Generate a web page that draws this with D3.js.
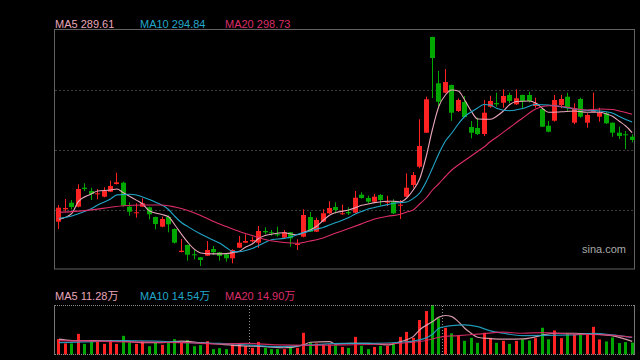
<!DOCTYPE html>
<html><head><meta charset="utf-8">
<script src="https://cdn.jsdelivr.net/npm/d3@7/dist/d3.min.js"></script>
<style>html,body{margin:0;padding:0;background:#000;}svg{display:block;}</style>
</head><body>
<svg id="chart" width="640" height="360"></svg>
<script>
// ---- data ----
const openP = [245.05,251.25,254.55,252.55,262.05,260.4,258.75,257.55,260.05,263.9,
264.55,252.55,249.25,252.55,252.25,247.4,242.55,247.4,241.4,229.9,
233.4,228.75,227.25,228.05,231.4,229.75,228.75,226.75,232.05,234.55,
235.25,234.55,240.4,239.75,238.75,237.05,239.75,233.4,237.55,247.4,
240.05,245.05,249.25,252.4,248.75,249.9,249.55,258.55,256.9,255.05,
258.4,254.55,255.05,253.05,257.55,263.4,272.55,289.55,337.4,314.25,
309.55,313.4,300.4,304.9,292.4,291.9,288.9,302.55,304.4,304.55,
308.4,303.75,308.4,308.4,302.9,301.4,293.05,295.55,303.4,307.55,
294.55,306.4,294.55,299.9,297.55,299.25,294.55,289.55,288.75,287.55];
const closeP = [252.05,251.9,252.4,261.4,261.4,258.9,259.25,260.4,262.9,264.75,
253.05,250.05,249.75,254.25,248.75,243.9,246.4,243.75,234.55,230.55,
228.55,228.4,225.9,230.9,229.75,227.9,226.75,230.9,234.55,235.4,
235.9,240.4,239.75,239.25,238.25,239.75,236.75,233.9,248.4,240.05,
245.9,249.25,251.9,250.9,249.25,249.25,257.05,256.9,255.05,257.55,
255.9,255.05,249.25,253.55,262.05,268.4,282.9,306.25,326.9,305.05,
314.9,299.55,305.9,297.4,289.55,288.9,299.55,305.4,303.75,307.9,
305.4,306.75,305.4,305.4,304.25,292.55,290.05,305.9,306.4,301.75,
301.75,297.55,298.4,300.4,299.55,294.25,289.55,287.9,288.25,285.9];
const highP = [253.4,256.4,255.9,263.75,264.25,262.05,261.4,262.25,265.55,269.55,
265.05,254.75,254.25,256.75,252.55,247.55,247.55,248.25,241.65,236.4,
233.65,230.9,227.4,235.4,232.9,229.9,229.4,231.25,237.9,238.75,
237.55,242.9,242.25,240.9,242.55,240.9,239.9,236.25,251.25,249.9,
247.05,251.25,255.25,254.75,253.55,252.25,260.4,259.75,258.05,258.9,
258.9,258.05,256.25,255.9,269.25,269.9,296.25,307.55,337.55,320.4,
321.4,313.55,306.65,307.9,295.4,297.05,305.9,308.05,309.55,311.25,
309.55,311.25,308.55,310.05,307.05,301.55,295.4,308.4,308.4,309.55,
304.25,307.05,299.25,309.55,302.05,299.9,294.65,292.55,290.4,288.75];
const lowP = [241.4,250.05,251.25,252.25,260.4,255.9,256.25,257.25,259.9,263.65,
252.55,248.05,247.05,252.4,246.25,241.25,242.25,239.75,234.15,229.75,
225.55,226.25,222.9,227.9,228.4,225.55,225.05,224.25,231.9,234.4,
234.75,232.05,238.75,238.05,237.55,236.9,232.55,230.9,237.25,239.9,
239.9,244.75,249.05,249.25,248.55,248.4,249.4,256.55,254.25,254.55,
253.05,252.9,248.9,246.4,257.4,262.05,271.75,289.4,306.9,302.9,
309.25,295.55,299.9,297.25,286.75,288.4,287.9,302.05,302.55,302.05,
304.25,303.4,301.4,304.75,302.05,292.4,289.75,295.05,301.75,300.05,
293.75,297.05,292.05,299.75,295.05,293.9,287.55,286.4,281.4,284.75];
// volume in 万 (10k shares)
const volume = [13.2,9.5,9.5,17.7,9.1,10.8,10.8,9.1,12.3,9.1,
16.0,10.3,9.1,11.2,7.1,10.0,8.3,10.3,13.2,10.0,
12.3,7.1,8.0,11.4,4.6,5.4,4.6,8.6,9.5,7.1,
5.7,10.8,5.7,4.6,4.6,4.6,6.3,5.7,18.6,10.3,
9.5,8.6,8.6,7.7,6.5,5.7,15.1,7.4,4.6,6.5,
7.4,7.4,10.0,15.1,19.4,14.3,29.5,37.2,42.4,31.0,
22.9,18.1,16.3,11.7,14.3,10.0,18.6,14.3,10.0,11.7,
9.1,11.7,13.0,12.0,14.0,22.9,13.0,20.6,14.0,18.1,
17.0,18.0,17.4,23.7,12.9,11.2,14.6,9.8,10.6,10.2];
// moving averages: [candle index, value]
const ma5 = [[0,246.25],[2,249.25],[3,255.05],[5,258.9],[6,260.4],[8,260.9],[9,261.4],[10,259.55],[12,255.85],[13,253.9],[14,250.5],[16,248.6],[17,247.5],[18,243.4],[19,238.9],[20,234.75],[21,231.3],[22,229.4],[24,228.95],[26,229.1],[27,229.6],[28,230.3],[29,232.4],[30,233.9],[31,236.65],[32,238.15],[33,238.8],[35,239.5],[36,238.9],[37,238.5],[38,239.65],[39,240.9],[40,242.75],[41,245.65],[42,248.3],[43,249.65],[45,250.9],[46,252],[47,253.25],[48,253.9],[49,254.6],[50,255.05],[51,255.25],[52,255.3],[53,254.9],[54,256.9],[55,260.9],[56,266.4],[57,277.4],[58,291.4],[59,302.9],[60,308.4],[61,310.9],[62,310.4],[63,305.9],[64,300.4],[65,296.4],[67,296.25],[68,297.9],[69,300.4],[70,303.65],[71,305.15],[73,305.4],[74,304.4],[75,301.9],[76,299.75],[78,300],[80,300.4],[82,299.75],[84,299.75],[85,298.9],[86,297.65],[87,295.3],[88,292.9],[89,289.61]];
const ma10 = [[0,246.8],[2,247.9],[3,249],[5,251.5],[6,253.4],[8,256.4],[9,258.45],[11,258.75],[12,258.4],[14,256.15],[15,254.8],[17,251.15],[18,247.65],[19,244.65],[20,242.6],[22,238.9],[24,235.8],[25,234.25],[26,232.05],[27,230.1],[28,230.05],[29,230.65],[30,231.65],[31,233.15],[32,234.65],[33,236],[35,236.7],[36,237.4],[37,238.65],[38,239.6],[39,240.4],[40,241.4],[41,242.15],[42,243.4],[43,244.65],[45,247.1],[46,248.9],[47,250.15],[48,251.4],[49,252.15],[50,252.9],[51,253.6],[52,254.25],[53,254.6],[54,254.9],[55,256.65],[56,259.4],[57,264.9],[58,271.9],[59,279.15],[60,285.4],[61,289.4],[62,293.9],[63,297.65],[64,299.9],[65,301.9],[66,303.65],[67,303.4],[68,301.65],[70,300.55],[72,301.65],[74,303.65],[76,303.4],[78,302.5],[80,301.4],[82,300.7],[84,300.4],[86,299.25],[87,297.65],[88,296.15],[89,294.84]];
const ma20 = [[0,249.75],[2,250.1],[5,250.95],[8,252.25],[10,253.05],[13,253.4],[16,253.4],[18,252.4],[20,250.65],[22,248.15],[24,245.15],[26,242.6],[28,240.15],[30,238.15],[32,236.15],[34,235],[36,234.4],[37,234.25],[39,235.4],[41,236.9],[43,239.4],[45,241.65],[47,244],[49,246.4],[51,247.75],[53,248.75],[54,249.9],[55,250.9],[56,253.9],[57,256.9],[58,260.9],[59,264.15],[60,267.65],[61,270.9],[62,273.4],[63,275.65],[64,277.9],[65,280.15],[66,282.4],[67,285.15],[68,287.4],[70,292.15],[72,296.9],[74,301.4],[76,303.05],[78,302.75],[80,301.65],[82,300.9],[84,301.4],[86,301.15],[87,300.4],[88,299.65],[89,298.73]];
const vma5 = [[0,13.1],[2,11.9],[5,11.9],[10,11.4],[13,10.1],[16,10.1],[19,11.4],[22,10.1],[25,8.8],[28,7.6],[32,6.7],[35,5.8],[38,8.2],[39,10.5],[42,11.0],[43,8.8],[45,9.6],[48,9.6],[51,8.2],[53,11.0],[55,15.3],[56,21.1],[58,28.2],[59,32.0],[60,33.4],[61,32.5],[62,28.2],[63,22.5],[64,18.2],[65,14.8],[67,13.6],[69,13.1],[72,13.3],[77,18.2],[80,18.2],[83,17.4],[86,15.9],[89,11.28]];
const vma10 = [[0,10.1],[4,10.8],[10,11.9],[15,11.4],[20,10.1],[25,9.6],[28,8.8],[34,6.7],[39,8.2],[44,9.6],[49,9.6],[53,10.5],[56,12.5],[58,17.4],[59,22.5],[61,24.8],[63,25.4],[65,23.9],[67,20.2],[69,18.2],[72,16.2],[80,16.8],[83,18.2],[86,16.8],[89,14.54]];
const vma20 = [[0,11.8],[4,11.6],[10,10.8],[15,10.5],[20,10.1],[25,9.0],[29,9.6],[34,8.2],[39,7.9],[44,8.2],[49,8.8],[55,10.5],[58,13.3],[59,14.8],[62,16.2],[65,17.4],[69,19.1],[72,18.2],[75,18.7],[80,17.4],[85,16.8],[89,14.90]];
const priceGrid = [250.9, 280.9, 310.9];
const sessionBreaks = [30, 60];
const maNames = ["MA5", "MA10", "MA20"];
const sourceLabel = "sina.com";

// ---- drawing ----
const svg = d3.select("#chart");
const UP = "#ff2222", DOWN = "#00a800";
const maColors = ["#e9a6b9", "#22a7c9", "#dc2d68"];
const n = closeP.length;
const x = d3.scaleBand().domain(d3.range(n)).range([55.78, 635.38]).paddingInner(0.22).paddingOuter(0.11);
const cx = i => x(i) + x.bandwidth() / 2;
const y = d3.scaleLinear().domain([221.4, 341.4]).range([269, 29]);
const yv = d3.scaleLinear().domain([0, d3.max(volume)]).range([354.5, 305]);
const font = "'Liberation Sans', Arial, 'Noto Sans CJK SC', sans-serif";

// main frame + grid
const main = svg.append("g");
main.selectAll("line.grid").data(priceGrid).join("line")
  .attr("x1", 55).attr("x2", 634).attr("y1", d => Math.round(y(d)) + 0.5).attr("y2", d => Math.round(y(d)) + 0.5)
  .attr("stroke", "#3d3d3d").attr("stroke-dasharray", "2,2");
main.append("rect").attr("x", 54.5).attr("y", 29.5).attr("width", 580).attr("height", 239.5)
  .attr("fill", "none").attr("stroke", "#626262");

// candles
const data = d3.range(n).map(i => ({i, o: openP[i], c: closeP[i], h: highP[i], l: lowP[i], v: volume[i]}));
const col = d => d.c >= d.o ? UP : DOWN;
const cg = main.append("g");
cg.selectAll("line").data(data).join("line")
  .attr("x1", d => Math.round(cx(d.i) - 2.5) + 2.5).attr("x2", d => Math.round(cx(d.i) - 2.5) + 2.5)
  .attr("y1", d => y(d.h)).attr("y2", d => y(d.l)).attr("stroke", col).attr("stroke-width", 1);
cg.selectAll("rect").data(data).join("rect")
  .attr("x", d => Math.round(cx(d.i) - 2.5)).attr("width", 5)
  .attr("y", d => y(Math.max(d.o, d.c)))
  .attr("height", d => Math.max(1, Math.abs(y(d.o) - y(d.c))))
  .attr("fill", col);

// MA lines (price)
const lineP = d3.line().x(d => cx(d[0])).y(d => y(d[1])).curve(d3.curveMonotoneX);
[ma5, ma10, ma20].forEach((s, k) => {
  main.append("path").datum(s).attr("d", lineP).attr("fill", "none")
    .attr("stroke", maColors[k]).attr("stroke-width", 1.1);
});

// legend main
const legX = [55, 140, 225];
[ma5, ma10, ma20].forEach((s, k) => {
  svg.append("text").attr("x", legX[k]).attr("y", 28).attr("fill", maColors[k])
    .attr("font-family", font).attr("font-size", 11)
    .text(maNames[k] + " " + s[s.length - 1][1].toFixed(2));
});
svg.append("text").attr("x", 582).attr("y", 253).attr("fill", "#a8a8a8")
  .attr("font-family", font).attr("font-size", 11).text(sourceLabel);

// volume panel
const vol = svg.append("g");
vol.selectAll("line.sep").data(sessionBreaks).join("line")
  .attr("x1", d => Math.round(cx(d) - x.step() / 2) + 0.5).attr("x2", d => Math.round(cx(d) - x.step() / 2) + 0.5)
  .attr("y1", 306).attr("y2", 355).attr("stroke", "#8a8a8a").attr("stroke-dasharray", "1,2");
vol.selectAll("rect").data(data).join("rect")
  .attr("x", d => Math.round(cx(d.i) - 1.5)).attr("width", 3)
  .attr("y", d => yv(d.v)).attr("height", d => yv(0) - yv(d.v)).attr("fill", col);
[305.5, 354.5].forEach(yy => {
  vol.append("line").attr("x1", 55).attr("x2", 634).attr("y1", yy).attr("y2", yy)
    .attr("stroke", "#8a8a8a").attr("stroke-dasharray", "1,1");
});
vol.append("line").attr("x1", 54.5).attr("x2", 54.5).attr("y1", 305).attr("y2", 355).attr("stroke", "#777");
vol.append("line").attr("x1", 634.5).attr("x2", 634.5).attr("y1", 305).attr("y2", 355).attr("stroke", "#777");
const lineV = d3.line().x(d => cx(d[0])).y(d => yv(d[1])).curve(d3.curveMonotoneX);
[vma5, vma10, vma20].forEach((s, k) => {
  vol.append("path").datum(s).attr("d", lineV).attr("fill", "none")
    .attr("stroke", maColors[k]).attr("stroke-width", 1.2).attr("stroke-opacity", 0.9);
});
[vma5, vma10, vma20].forEach((s, k) => {
  svg.append("text").attr("x", legX[k]).attr("y", 300).attr("fill", maColors[k])
    .attr("font-family", font).attr("font-size", 11)
    .text(maNames[k] + " " + s[s.length - 1][1].toFixed(2) + "万");
});
</script>
</body></html>
